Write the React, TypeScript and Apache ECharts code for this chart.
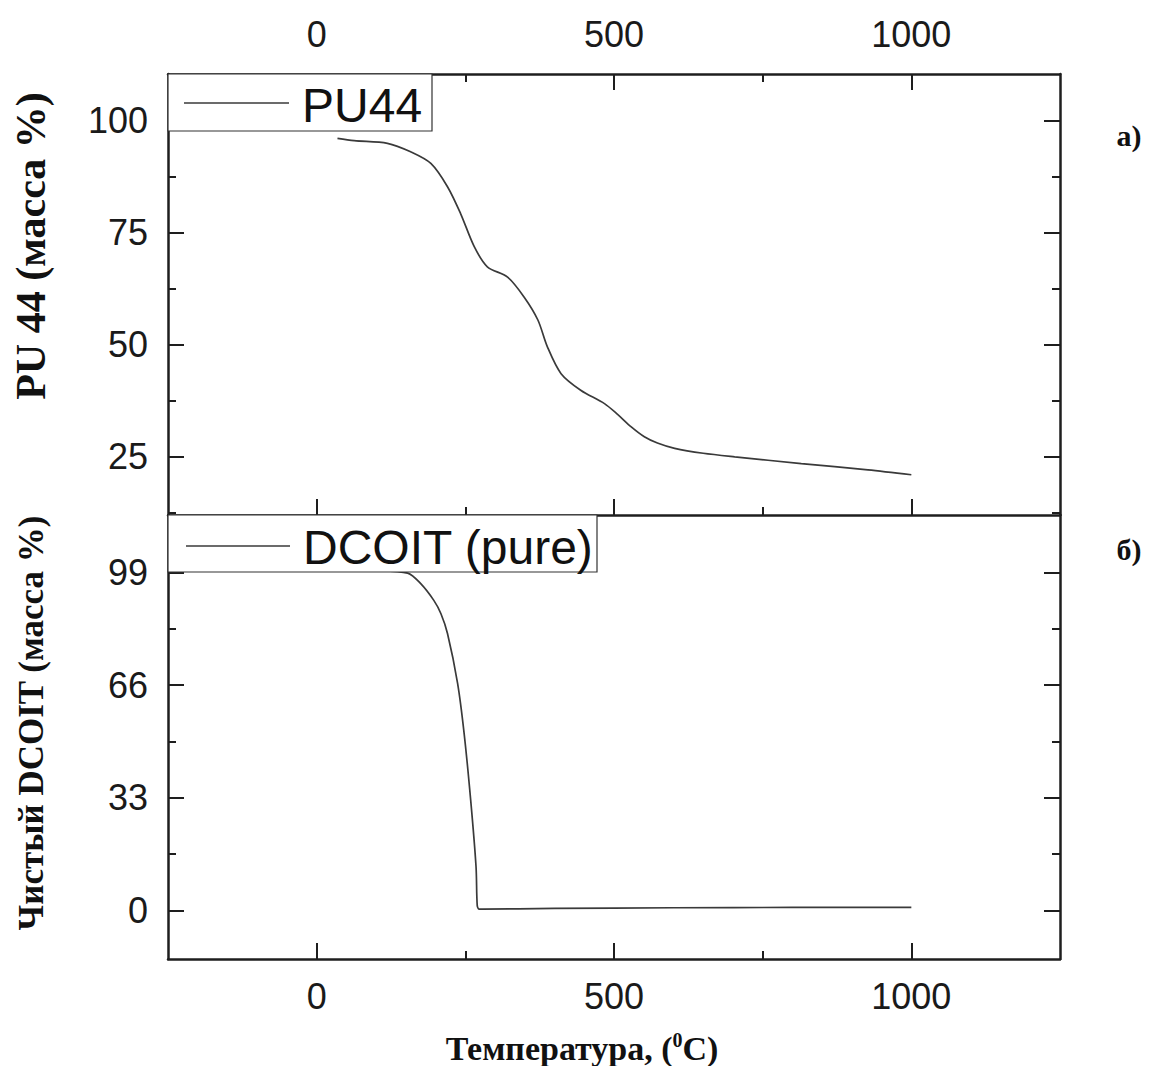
import React, { useEffect, useRef } from "react";
import * as echarts from "echarts";

// ---- data ----
const pu44Temp = [35, 63, 119, 158, 192, 220, 242, 265, 287, 321, 349, 372, 388, 411, 444, 484, 506, 529, 551, 573, 602, 650, 703, 815, 927, 1000];
const pu44Mass = [96.1, 95.6, 95.0, 93.1, 90.5, 85.3, 79.3, 71.9, 67.4, 65.1, 60.6, 55.5, 49.5, 43.5, 39.8, 36.8, 34.4, 31.6, 29.4, 28.0, 26.8, 25.7, 24.9, 23.4, 22.0, 20.9];

const dcoitTemp = [30, 100, 153, 175, 197, 209, 220, 237, 248, 259, 268, 270, 273, 279, 400, 600, 800, 1000];
const dcoitMass = [99.6, 99.5, 98.8, 95.7, 90.8, 86.9, 81.1, 66.5, 51.8, 32.3, 12.8, 1.5, 0.4, 0.4, 0.6, 0.8, 0.9, 0.9];

const xTicks = [0, 500, 1000];
const xMinorTicks = [250, 750];
const puTicks = [25, 50, 75, 100];
const puMinorTicks = [12.5, 37.5, 62.5, 87.5];
const dcTicks = [0, 33, 66, 99];
const dcMinorTicks = [16.5, 49.5, 82.5];

const seriesNames = ["PU44", "DCOIT (pure)"];

const AX = "#1e1e1e";
const SANS = "'Liberation Sans', Arial, sans-serif";
const SERIF = "'Liberation Serif', 'Times New Roman', serif";

const X_MIN = -250, X_MAX = 1250;
const PU_MIN = 11.9, PU_MAX = 110.5;
const DC_MIN = -14.2, DC_MAX = 115.8;

const plain = (v: number) => String(v);

function xAxis(gridIndex: number, position: string, ticks: number[], len: number, showLine: boolean, labels: boolean) {
  return {
    type: "value",
    gridIndex,
    position,
    min: X_MIN,
    max: X_MAX,
    axisLine: { show: showLine, onZero: false, lineStyle: { color: AX, width: 2.5 } },
    axisTick: { show: true, inside: true, length: len, customValues: ticks, lineStyle: { color: AX, width: 2 } },
    axisLabel: labels
      ? { show: true, customValues: ticks, formatter: plain, fontSize: 36, color: "#1a1a1a", fontFamily: SANS, margin: position === "top" ? 22 : 19 }
      : { show: false },
    splitLine: { show: false },
  };
}

function yAxis(gridIndex: number, position: string, min: number, max: number, ticks: number[], len: number, showLine: boolean, labels: boolean) {
  return {
    type: "value",
    gridIndex,
    position,
    min,
    max,
    axisLine: { show: showLine, onZero: false, lineStyle: { color: AX, width: 2.5 } },
    axisTick: { show: true, inside: true, length: len, customValues: ticks, lineStyle: { color: AX, width: 2 } },
    axisLabel: labels
      ? { show: true, customValues: ticks, formatter: plain, fontSize: 36, color: "#1a1a1a", fontFamily: SANS, margin: 20 }
      : { show: false },
    splitLine: { show: false },
  };
}

export default function App() {
  const ref = useRef<HTMLDivElement>(null);
  useEffect(() => {
    if (!ref.current) return;
    const chart = echarts.init(ref.current, null, { renderer: "svg" });
    const option = {
      animation: false,
      backgroundColor: "#ffffff",
      grid: [
        { left: 168, top: 74, width: 892, height: 441 },
        { left: 168, top: 515, width: 892, height: 444 },
      ],
      xAxis: [
        xAxis(0, "top", xTicks, 16, true, true),
        xAxis(0, "top", xMinorTicks, 8, false, false),
        xAxis(0, "bottom", xTicks, 16, true, false),
        xAxis(0, "bottom", xMinorTicks, 8, false, false),
        xAxis(1, "bottom", xTicks, 16, true, true),
        xAxis(1, "bottom", xMinorTicks, 8, false, false),
      ],
      yAxis: [
        yAxis(0, "left", PU_MIN, PU_MAX, puTicks, 16, true, true),
        yAxis(0, "left", PU_MIN, PU_MAX, puMinorTicks, 8, false, false),
        yAxis(0, "right", PU_MIN, PU_MAX, puTicks, 16, true, false),
        yAxis(0, "right", PU_MIN, PU_MAX, puMinorTicks, 8, false, false),
        yAxis(1, "left", DC_MIN, DC_MAX, dcTicks, 16, true, true),
        yAxis(1, "left", DC_MIN, DC_MAX, dcMinorTicks, 8, false, false),
        yAxis(1, "right", DC_MIN, DC_MAX, dcTicks, 16, true, false),
        yAxis(1, "right", DC_MIN, DC_MAX, dcMinorTicks, 8, false, false),
      ],
      series: [
        {
          name: seriesNames[0],
          type: "line",
          xAxisIndex: 0,
          yAxisIndex: 0,
          data: pu44Temp.map((t, i) => [t, pu44Mass[i]]),
          showSymbol: false,
          smooth: 0.3,
          lineStyle: { color: "#3a3a3a", width: 1.7 },
          z: 2,
        },
        {
          name: seriesNames[1],
          type: "line",
          xAxisIndex: 4,
          yAxisIndex: 4,
          data: dcoitTemp.map((t, i) => [t, dcoitMass[i]]),
          showSymbol: false,
          smooth: 0.3,
          lineStyle: { color: "#3a3a3a", width: 1.7 },
          z: 2,
        },
      ],
      graphic: [
        // legend top
        { type: "rect", z: 100, shape: { x: 168, y: 74, width: 264, height: 57 }, style: { fill: "#fff", stroke: "#333", lineWidth: 1.2 } },
        { type: "line", z: 101, shape: { x1: 184, y1: 103, x2: 289, y2: 103 }, style: { stroke: "#3a3a3a", lineWidth: 1.7 } },
        { type: "text", z: 101, x: 302, y: 105, style: { text: seriesNames[0], font: `48px ${SANS}`, fill: "#111", verticalAlign: "middle", align: "left" } },
        // legend bottom
        { type: "rect", z: 100, shape: { x: 168, y: 515, width: 429, height: 57 }, style: { fill: "#fff", stroke: "#333", lineWidth: 1.2 } },
        { type: "line", z: 101, shape: { x1: 186, y1: 546, x2: 290, y2: 546 }, style: { stroke: "#3a3a3a", lineWidth: 1.7 } },
        { type: "text", z: 101, x: 303, y: 547, style: { text: seriesNames[1], font: `48px ${SANS}`, fill: "#111", verticalAlign: "middle", align: "left" } },
        // panel labels
        { type: "text", x: 1129, y: 135, style: { text: "а)", font: `bold 30px ${SERIF}`, fill: "#111", align: "center", verticalAlign: "middle" } },
        { type: "text", x: 1129, y: 549, style: { text: "б)", font: `bold 30px ${SERIF}`, fill: "#111", align: "center", verticalAlign: "middle" } },
        // y titles
        { type: "text", x: 31, y: 246, rotation: Math.PI / 2, style: { text: "PU 44 (масса %)", font: `bold 42px ${SERIF}`, fill: "#111", align: "center", verticalAlign: "middle" } },
        { type: "text", x: 31, y: 723, rotation: Math.PI / 2, style: { text: "Чистый DCOIT (масса %)", font: `bold 35px ${SERIF}`, fill: "#111", align: "center", verticalAlign: "middle" } },
        // x title
        {
          type: "text",
          x: 582,
          y: 1048,
          style: {
            text: "{a|Температура, (}{b|0}{a|C)}",
            align: "center",
            verticalAlign: "middle",
            rich: {
              a: { font: `bold 34px ${SERIF}`, fill: "#111", color: "#111" },
              b: { font: `bold 20px ${SERIF}`, fill: "#111", color: "#111", padding: [0, 0, 16, 0] },
            },
          },
        },
      ],
    };
    chart.setOption(option as any);
    return () => chart.dispose();
  }, []);
  return <div ref={ref} style={{ position: "fixed", left: 0, top: 0, width: 1149, height: 1066, background: "#fff" }} />;
}
